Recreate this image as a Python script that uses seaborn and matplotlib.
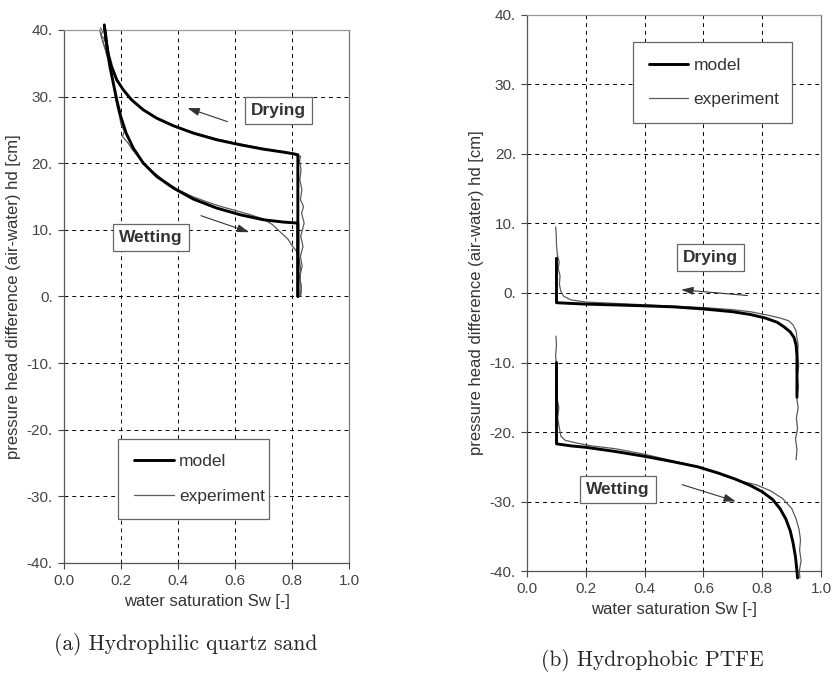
import numpy as np
import pandas as pd
import seaborn as sns
import matplotlib.pyplot as plt

sns.set_theme(style='whitegrid')
plt.rcParams['font.family'] = ['Liberation Sans', 'DejaVu Sans']

# (a) hydrophilic quartz sand
a_dry_model_sw = [0.82, 0.82, 0.805, 0.77, 0.699, 0.618, 0.536, 0.454, 0.384, 0.325, 0.278, 0.237,
                  0.208, 0.185, 0.167, 0.156, 0.147, 0.1415]
a_dry_model_h = [0.0, 21.25, 21.4, 21.65, 22.1, 22.75, 23.5, 24.5, 25.6, 26.75, 28.0, 29.5,
                 31.0, 32.5, 34.5, 36.25, 38.5, 40.75]
a_wet_model_sw = [0.1415, 0.147, 0.152, 0.161, 0.173, 0.185, 0.199, 0.218, 0.243, 0.278, 0.325,
                  0.384, 0.454, 0.536, 0.618, 0.699, 0.77, 0.82, 0.82]
a_wet_model_h = [40.5, 39.0, 37.0, 34.5, 32.0, 29.5, 27.0, 24.5, 22.25, 20.0, 18.0,
                 16.25, 14.6, 13.25, 12.25, 11.5, 11.15, 11.0, 0.0]
a_dry_exp_sw = [0.828, 0.832, 0.826, 0.835, 0.829, 0.838, 0.83, 0.842, 0.833, 0.84, 0.829, 0.834,
                0.827, 0.831, 0.826, 0.83, 0.80, 0.76, 0.71, 0.65, 0.59, 0.53, 0.47, 0.41, 0.36,
                0.31, 0.27, 0.235, 0.21, 0.19, 0.175, 0.16, 0.15, 0.145, 0.138, 0.142, 0.13, 0.135, 0.128]
a_dry_exp_h = [0.0, 1.5, 3.0, 4.5, 6.0, 7.5, 9.0, 11.0, 12.5, 13.5, 14.5, 16.0,
               17.5, 19.0, 20.5, 21.0, 21.4, 21.7, 22.1, 22.6, 23.1, 23.7, 24.4, 25.2, 26.0,
               27.1, 28.3, 29.6, 30.9, 32.2, 33.6, 35.0, 36.3, 37.2, 38.0, 38.6, 39.2, 39.7, 40.3]
a_wet_exp_sw = [0.125, 0.132, 0.145, 0.155, 0.165, 0.172, 0.18, 0.186, 0.195, 0.2, 0.212, 0.205,
                0.225, 0.24, 0.26, 0.28, 0.31, 0.35, 0.40, 0.45, 0.50, 0.55, 0.60, 0.65, 0.70,
                0.73, 0.76, 0.785, 0.80, 0.815, 0.825, 0.83, 0.828, 0.832, 0.83]
a_wet_exp_h = [40.0, 38.8, 37.0, 35.5, 34.0, 32.0, 30.0, 28.5, 27.0, 25.8, 24.8, 24.0,
               23.0, 22.0, 21.0, 20.0, 18.8, 17.4, 16.0, 15.0, 14.2, 13.5, 12.9, 12.3, 11.6,
               10.8, 9.6, 8.6, 7.6, 6.8, 5.5, 4.0, 2.5, 1.0, 0.0]

# (b) hydrophobic PTFE
b_dry_model_sw = [0.918, 0.918, 0.915, 0.908, 0.895, 0.875, 0.85, 0.81, 0.76, 0.70, 0.60, 0.50,
                  0.40, 0.30, 0.20, 0.10, 0.10]
b_dry_model_h = [-15.0, -9.0, -7.5, -6.4, -5.6, -4.9, -4.2, -3.6, -3.1, -2.7, -2.3, -2.0,
                 -1.85, -1.72, -1.6, -1.4, 5.0]
b_wet_model_sw = [0.1, 0.1, 0.15, 0.2, 0.3, 0.4, 0.5, 0.58, 0.65, 0.71, 0.76, 0.80, 0.835, 0.86,
                  0.88, 0.895, 0.905, 0.913, 0.918, 0.92]
b_wet_model_h = [-10.0, -21.7, -22.0, -22.2, -22.8, -23.5, -24.3, -25.0, -25.9, -26.8, -27.7, -28.6,
                 -29.7, -31.0, -32.5, -34.2, -36.0, -38.0, -40.0, -41.0]
b_dry_exp_sw = [0.915, 0.918, 0.913, 0.92, 0.916, 0.922, 0.917, 0.923, 0.919, 0.924, 0.92, 0.922,
                0.918, 0.915, 0.905, 0.89, 0.86, 0.82, 0.76, 0.70, 0.60, 0.50, 0.40, 0.30, 0.20,
                0.15, 0.125, 0.115, 0.11, 0.112, 0.106, 0.109, 0.103, 0.10, 0.099, 0.097]
b_dry_exp_h = [-24.0, -22.5, -21.0, -19.5, -18.0, -16.5, -15.0, -13.5, -12.0, -10.5, -9.0, -7.5,
               -6.5, -5.5, -4.6, -4.0, -3.6, -3.2, -2.7, -2.4, -2.1, -1.9, -1.7, -1.5, -1.3,
               -1.0, -0.5, 0.2, 1.2, 2.5, 3.5, 4.5, 5.5, 7.0, 8.5, 9.5]
b_wet_exp_sw = [0.098, 0.1, 0.097, 0.1, 0.099, 0.103, 0.101, 0.108, 0.104, 0.11, 0.115, 0.13,
                0.17, 0.22, 0.30, 0.40, 0.50, 0.58, 0.65, 0.72, 0.78, 0.83, 0.87, 0.90, 0.915,
                0.925, 0.93, 0.927, 0.932, 0.926, 0.928]
b_wet_exp_h = [-6.2, -7.5, -9.0, -10.5, -12.0, -13.5, -15.0, -16.5, -18.0, -19.5, -20.6, -21.2,
               -21.6, -22.0, -22.4, -23.2, -24.2, -25.0, -26.0, -27.0, -27.6, -28.5, -29.6, -31.0, -32.5,
               -34.0, -35.5, -37.0, -38.5, -40.0, -41.0]

x_ticks = [0.0, 0.2, 0.4, 0.6, 0.8, 1.0]
x_labels = ['0.0', '0.2', '0.4', '0.6', '0.8', '1.0']
y_ticks = [-40, -30, -20, -10, 0, 10, 20, 30, 40]
y_labels = ['-40.', '-30.', '-20.', '-10.', '0.', '10.', '20.', '30.', '40.']


def curves(parts):
    frames = []
    for name, kind, sw, h in parts:
        frames.append(pd.DataFrame({'sw': sw, 'h': h, 'curve': name, 'kind': kind}))
    return pd.concat(frames, ignore_index=True)


panels = [
    dict(rect=[0.0767, 0.171, 0.342, 0.785],
         data=curves([('dry_m', 'model', a_dry_model_sw, a_dry_model_h),
                      ('wet_m', 'model', a_wet_model_sw, a_wet_model_h),
                      ('dry_e', 'experiment', a_dry_exp_sw, a_dry_exp_h),
                      ('wet_e', 'experiment', a_wet_exp_sw, a_wet_exp_h)]),
         dry_box=(0.753, 27.9), wet_box=(0.304, 8.85),
         dry_arrow=((0.582, 26.1), (0.424, 28.4)),
         wet_arrow=((0.471, 12.25), (0.658, 9.5)),
         legend=(0.19, 0.233, 0.53),
         caption='(a) Hydrophilic quartz sand', cap_xy=(186, 645)),
    dict(rect=[0.632, 0.159, 0.3525, 0.819],
         data=curves([('dry_m', 'model', b_dry_model_sw, b_dry_model_h),
                      ('wet_m', 'model', b_wet_model_sw, b_wet_model_h),
                      ('dry_e', 'experiment', b_dry_exp_sw, b_dry_exp_h),
                      ('wet_e', 'experiment', b_wet_exp_sw, b_wet_exp_h)]),
         dry_box=(0.624, 5.05), wet_box=(0.31, -28.3),
         dry_arrow=((0.759, -0.4), (0.515, 0.5)),
         wet_arrow=((0.518, -27.45), (0.719, -30.1)),
         legend=(0.36, 0.951, 0.54),
         caption='(b) Hydrophobic PTFE', cap_xy=(652, 660)),
]

fig = plt.figure(figsize=(8.34, 6.79), dpi=100)

for p in panels:
    ax = fig.add_axes(p['rect'])
    df = p['data']
    for name in ['dry_e', 'wet_e', 'dry_m', 'wet_m']:
        sub = df[df['curve'] == name]
        is_model = sub['kind'].iloc[0] == 'model'
        sns.lineplot(data=sub, x='sw', y='h', sort=False, estimator=None, ax=ax,
                     color='black' if is_model else '#5a5a5a',
                     linewidth=2.1 if is_model else 0.9,
                     label=sub['kind'].iloc[0] if name.startswith('dry') else None,
                     clip_on=False, zorder=3 if is_model else 2.5)

    ax.set_xlim(0, 1)
    ax.set_ylim(-40, 40)
    ax.set_xticks(x_ticks)
    ax.set_xticklabels(x_labels)
    ax.set_yticks(y_ticks)
    ax.set_yticklabels(y_labels)
    ax.tick_params(colors='#444444', labelsize=11, length=4, width=0.8, direction='out',
                   left=True, bottom=True, pad=4)
    ax.grid(True, color='black', linestyle=(0, (4, 4)), linewidth=0.7)
    ax.set_facecolor('white')
    for side, col in [('left', '#555555'), ('bottom', '#555555'),
                      ('top', '#999999'), ('right', '#777777')]:
        ax.spines[side].set_visible(True)
        ax.spines[side].set_color(col)
        ax.spines[side].set_linewidth(0.9)
    ax.set_xlabel('water saturation Sw [-]', fontsize=12, color='#333333', labelpad=4)
    ax.set_ylabel('pressure head difference (air-water) hd [cm]', fontsize=12,
                  color='#333333', labelpad=4)

    bbox = dict(boxstyle='square,pad=0.35', facecolor='white', edgecolor='#666666', linewidth=0.9)
    ax.text(*p['dry_box'], 'Drying', fontsize=12.5, fontweight='bold', color='#333333',
            ha='center', va='center', bbox=bbox, zorder=5)
    ax.text(*p['wet_box'], 'Wetting', fontsize=12.5, fontweight='bold', color='#333333',
            ha='center', va='center', bbox=bbox, zorder=5)
    for start, end in [p['dry_arrow'], p['wet_arrow']]:
        ax.annotate('', xy=end, xytext=start,
                    arrowprops=dict(arrowstyle='-|>,head_length=0.6,head_width=0.2',
                                    color='#333333', linewidth=0.8))

    lx, ly, lw = p['legend']
    handles, labels = ax.get_legend_handles_labels()
    by_label = dict(zip(labels, handles))
    leg = ax.legend([by_label['model'], by_label['experiment']], ['model', 'experiment'],
                    loc='upper left', bbox_to_anchor=(lx, ly - 0.2, lw, 0.2), mode='expand',
                    fontsize=12.5, frameon=True, fancybox=False, framealpha=1,
                    edgecolor='#666666', labelspacing=1.1, handlelength=2.3,
                    borderpad=0.9, handletextpad=0.3, borderaxespad=0)
    leg.get_frame().set_linewidth(0.9)
    for t in leg.get_texts():
        t.set_color('#333333')

    fig.text(p['cap_xy'][0] / 834, 1 - p['cap_xy'][1] / 679, p['caption'],
             family=['cmr10', 'DejaVu Serif'], fontsize=15.5, ha='center', va='center')

fig.savefig('out.png', dpi=100)
